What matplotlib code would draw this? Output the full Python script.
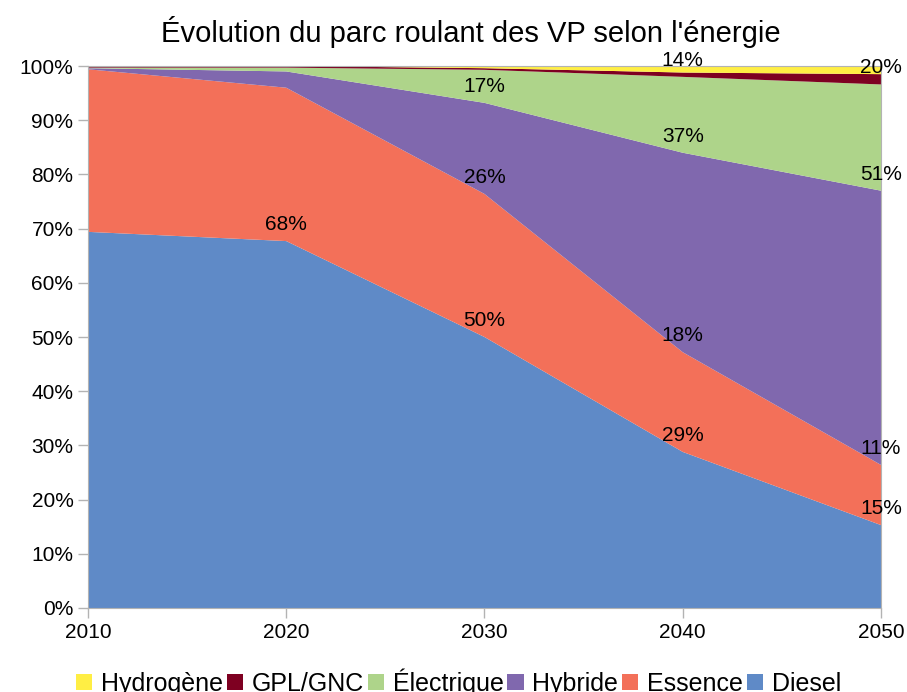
import matplotlib
matplotlib.use("Agg")
import matplotlib.pyplot as plt
from matplotlib.patches import Patch
from matplotlib.ticker import PercentFormatter

plt.rcParams['font.family'] = ['Liberation Sans', 'DejaVu Sans']

# values, % of the fleet
years = [2010, 2020, 2030, 2040, 2050]
diesel = [69.4, 67.7, 50.0, 28.8, 15.3]
essence = [30.0, 28.3, 26.4, 18.4, 11.1]
hybride = [0.2, 3.0, 16.8, 36.8, 50.6]
electrique = [0.1, 0.7, 6.1, 14.0, 19.6]
gpl_gnc = [0.3, 0.3, 0.3, 0.8, 1.9]
hydrogene = [0.0, 0.0, 0.4, 1.2, 1.5]

series_names = ["Diesel", "Essence", "Hybride", "Électrique", "GPL/GNC", "Hydrogène"]
colors = ["#5f8ac7", "#f37059", "#8068ae", "#aed48a", "#7e0021", "#ffee44"]

# which points carry a value label (series index -> years)
labelled = {0: [2020, 2030, 2040, 2050],
            1: [2030, 2040, 2050],
            2: [2030, 2040, 2050],
            3: [2040, 2050]}

fig = plt.figure(figsize=(9.07, 6.92), dpi=100)
ax = fig.add_axes([0.097, 0.1214, 0.8743, 0.7832])

data = [diesel, essence, hybride, electrique, gpl_gnc, hydrogene]
ax.stackplot(years, *data, colors=colors, labels=series_names, linewidth=0)

# value labels sitting on top of each band
base = [0.0] * len(years)
tops = []
for vals in data:
    base = [b + v for b, v in zip(base, vals)]
    tops.append(list(base))

for si, yrs in labelled.items():
    for yr in yrs:
        i = years.index(yr)
        ax.annotate("%d%%" % round(data[si][i]), (yr, tops[si][i]),
                    xytext=(0, 5), textcoords="offset points",
                    ha="center", va="bottom", fontsize=15, color="black",
                    annotation_clip=False)

ax.set_xlim(2010, 2050)
ax.set_ylim(0, 100)
ax.set_xticks(years)
ax.set_yticks(range(0, 101, 10))
ax.yaxis.set_major_formatter(PercentFormatter(decimals=0))
ax.tick_params(axis="both", labelsize=15, length=7, color="#b3b3b3", width=1)
for sp in ax.spines.values():
    sp.set_color("#b3b3b3")

ax.set_title("Évolution du parc roulant des VP selon l'énergie", fontsize=21, pad=17, x=0.483)

handles = [Patch(facecolor=colors[i], edgecolor="none", label=series_names[i])
           for i in range(len(series_names) - 1, -1, -1)]
fig.legend(handles=handles, loc="center", bbox_to_anchor=(0.5055, 0.0145),
           ncol=6, frameon=False, fontsize=18, handlelength=0.65, handleheight=0.65,
           handletextpad=0.35, columnspacing=0.15, borderaxespad=0, borderpad=0)

fig.savefig("out.png", dpi=100)
